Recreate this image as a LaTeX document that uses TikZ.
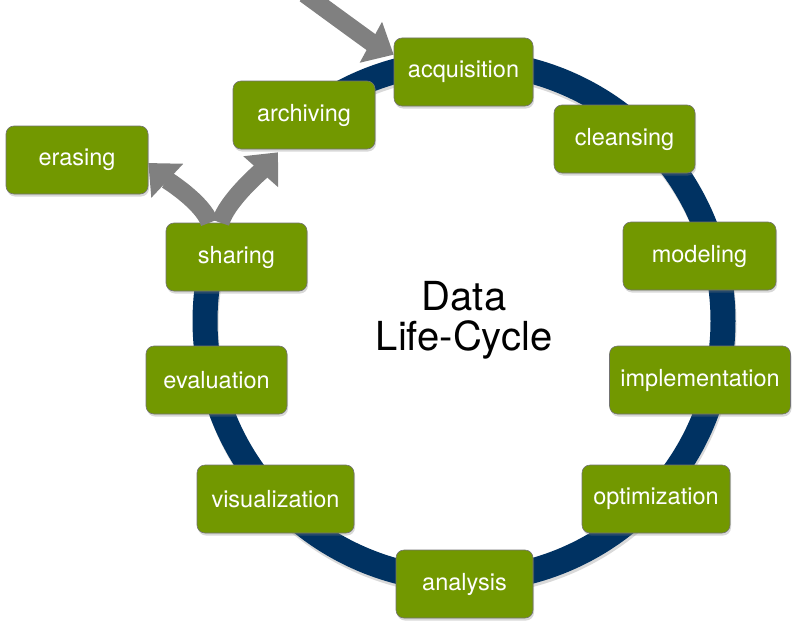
\documentclass[tikz,border=0pt]{standalone}
\usepackage{fontspec}
\setmainfont{TeX Gyre Heros}
\usetikzlibrary{arrows.meta,shadows}
\definecolor{boxgreen}{RGB}{114,152,0}
\definecolor{ringblue}{RGB}{0,50,98}
\definecolor{arrowgray}{RGB}{128,128,128}
\begin{document}
\begin{tikzpicture}[x=1pt,y=-1pt,
  stage/.style={draw=black!55, line width=0.6pt, fill=boxgreen, rounded corners=8pt,
    minimum height=68pt, text=white, font=\fontsize{23.5}{27}\selectfont, inner sep=0pt,
    drop shadow={shadow xshift=1pt, shadow yshift=-2.5pt, opacity=0.3}},
  bigarrow/.style={draw=arrowgray, line width=18pt, -{Triangle[length=26pt, width=45pt]}},
  ring/.style={draw=ringblue, line width=25pt}]
\useasboundingbox (0,0) rectangle (800,626);
\clip (0,0) rectangle (800,626);
\fill[white] (0,0) rectangle (800,626);
% ring (open between archiving and sharing)
\draw[black, opacity=0.15, line width=25pt] (465,324) ++(130.8:259pt) arc[start angle=130.8, end angle=-194.3, radius=259pt];
\draw[ring] (464,321) ++(130.8:259pt) arc[start angle=130.8, end angle=-194.3, radius=259pt];
% title
\node[font=\fontsize{40}{40}\selectfont, align=center, inner sep=0pt] (title) at (464,320) {Data\\Life-Cycle};
% stages
\node[stage, minimum width=139pt] (acq) at (463.5,72) {acquisition};
\node[stage, minimum width=141pt] (cle) at (624.5,139) {cleansing};
\node[stage, minimum width=153pt] (mod) at (699.5,256) {modeling};
\node[stage, minimum width=181pt] (imp) at (700,380) {implementation};
\node[stage, minimum width=148pt] (opt) at (656,499) {optimization};
\node[stage, minimum width=137pt] (ana) at (464.5,584) {analysis};
\node[stage, minimum width=157pt] (vis) at (275.5,499) {visualization};
\node[stage, minimum width=141pt] (eva) at (216.5,380) {evaluation};
\node[stage, minimum width=141pt] (sha) at (236.5,257) {sharing};
\node[stage, minimum width=142pt] (arc) at (304,115) {archiving};
\node[stage, minimum width=142pt] (era) at (77,160) {erasing};
% arrows
\coordinate (src) at (305,-6);
\draw[bigarrow] (src) .. controls +(30,22) and +(-22,-12) .. ([yshift=-17pt]acq.north west);
\draw[bigarrow] ([xshift=-27pt]sha.north) .. controls +(-6,-20) and +(16,15) .. ([yshift=-3pt]era.east);
\draw[bigarrow] ([xshift=-16pt]sha.north) .. controls +(6,-22) and +(-16,18) .. ([xshift=-26pt,yshift=-3pt]arc.south);
\end{tikzpicture}
\end{document}
